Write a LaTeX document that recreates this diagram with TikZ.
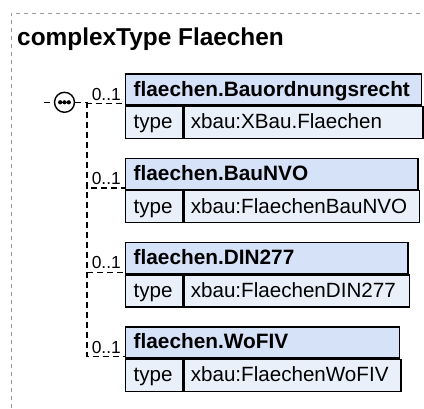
\documentclass[tikz,border=0pt]{standalone}
\usepackage{fontspec}
\setmainfont{Liberation Sans}
\usetikzlibrary{positioning,calc}
\definecolor{headblue}{RGB}{214,226,248}
\definecolor{rowblue}{RGB}{234,240,250}
\definecolor{framegray}{RGB}{153,153,153}

\begin{document}
\begin{tikzpicture}[x=1pt,y=-1pt,
    frame/.style={framegray, line width=1pt, dash pattern=on 4pt off 4pt},
    conn/.style={black, line width=1.2pt, dash pattern=on 6pt off 4pt},
    cell/.style={draw=black, line width=1.4pt, inner xsep=8pt, inner ysep=0pt,
      text height=15pt, text depth=2pt, align=left, anchor=north west},
    headcell/.style={cell, fill=headblue, minimum height=31pt,
      font=\fontsize{20.8}{24}\selectfont\bfseries},
    typecell/.style={cell, fill=rowblue, minimum height=32pt,
      font=\fontsize{20.6}{24}\selectfont},
    mult/.style={anchor=base east, inner sep=0pt, font=\fontsize{17.4}{20}\selectfont}]
    \useasboundingbox (0,0) rectangle (424,408);
    % Frame of the complex type
    \draw[frame] (11,408) -- (11,13.3) -- (424,13.3);
    \node[anchor=base west, inner sep=0pt, font=\fontsize{24.4}{28}\selectfont\bfseries]
      (title) at (17,45) {complexType Flaechen};
    % Sequence compositor
    \coordinate (in) at (44,102.3);
    \coordinate (fork) at (87,102.3);
    \node[draw, circle, line width=1.4pt, fill=white, minimum size=20pt, inner sep=0pt]
      (seq) at (64.5,102.3) {};
    \draw[conn] (in) -- (seq.west);
    \draw[conn] (seq.east) -- (fork);
    \draw[line width=1.4pt] ($(seq)+(-6.5pt,0pt)$) -- ($(seq)+(6.5pt,0pt)$);
    \foreach \d in {-4.3,0,4.3}
        \fill ($(seq)+(\d pt,0pt)$) circle [radius=2.1pt];
    % Elements
    \foreach \i/\name/\typ/\w in {1/Bauordnungsrecht/XBau.Flaechen/295.7,
                                  2/BauNVO/FlaechenBauNVO/292.3,
                                  3/DIN277/FlaechenDIN277/282.3,
                                  4/WoFIV/FlaechenWoFIV/274} {
        \pgfmathsetmacro\hw{\w-16}
        \pgfmathsetmacro\vw{\w-56.7-14}
        \node[headcell, text width=\hw pt] (h\i) at (125,{73.3+(\i-1)*84.33}) {flaechen.\name};
        \node[typecell, text width=40.7pt] (t\i) at (h\i.south west) {type};
        \node[typecell, inner xsep=7pt, text width=\vw pt] (v\i) at (t\i.north east) {xbau:\typ};
        \draw[conn] (fork) |- ($(h\i.south west)+(0,-2)$);
        \node[mult] (m\i) at ($(h\i.south west)+(-4,-5.5)$) {0..1};
    }
\end{tikzpicture}
\end{document}
